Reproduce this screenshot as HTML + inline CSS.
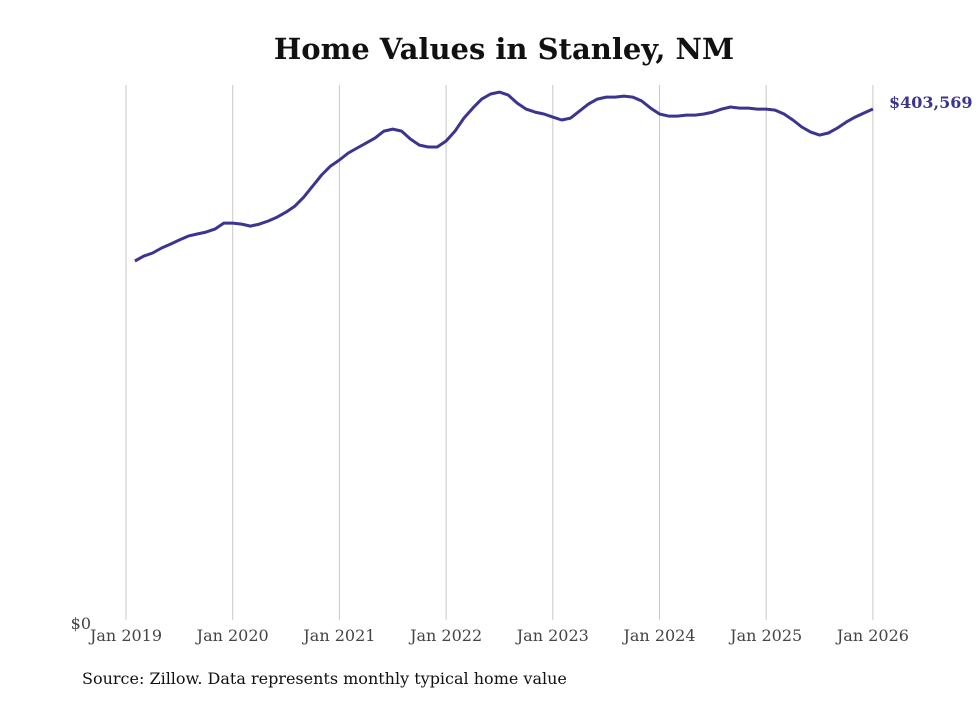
<!DOCTYPE html>
<html><head><meta charset="utf-8"><style>
body{margin:0;background:#fff}
svg text{font-family:"DejaVu Serif","Liberation Serif",serif}
</style></head><body>
<svg width="980" height="699" xmlns="http://www.w3.org/2000/svg">
<text x="504" y="59" text-anchor="middle" font-size="29" font-weight="bold" fill="#111">Home Values in Stanley, NM</text>
<g id="grid"></g>
<g id="xticks"></g>
<text x="91" y="629" text-anchor="end" font-size="16" fill="#444">$0</text>
<path id="line" fill="none" stroke="#3b3590" stroke-width="3" stroke-linejoin="round"/>
<text id="endlabel" x="889" y="108" font-size="16" font-weight="bold" fill="#3b3590">$403,569</text>
<text x="82" y="684" font-size="16" fill="#111">Source: Zillow. Data represents monthly typical home value</text>
</svg>
<script>
const tickLabels=["Jan 2019","Jan 2020","Jan 2021","Jan 2022","Jan 2023","Jan 2024","Jan 2025","Jan 2026"];
const startMonthIndex=1; // Feb 2019
const valuesK=[284.2,288.1,290.5,294.4,297.5,300.7,303.8,305.4,306.9,309.3,314.0,
314.0,313.2,311.6,313.2,315.6,318.7,322.6,327.3,334.4,343.0,351.7,358.7,
363.5,369.0,372.9,376.8,380.7,386.2,387.8,386.2,379.9,375.2,373.7,373.7,
378.4,386.2,396.4,404.3,411.3,415.3,416.8,414.5,408.2,403.5,401.1,399.6,
397.2,394.9,396.4,401.9,407.4,411.3,412.9,412.9,413.7,412.9,409.8,404.3,
399.6,398.0,398.0,398.8,398.8,399.6,401.1,403.5,405.1,404.3,404.3,403.5,
403.5,402.7,399.6,394.9,389.4,385.4,383.1,384.7,388.6,393.3,397.2,400.4,
403.569];
const yMax=422.4;
const x0=126,yearW=106.7,yBot=623,yTop=85;
const xs=m=>x0+m*yearW/12;
const ys=v=>yBot-(v/yMax)*(yBot-yTop);
const ns="http://www.w3.org/2000/svg";
const grid=document.getElementById('grid'),xt=document.getElementById('xticks');
tickLabels.forEach((t,i)=>{
 const x=xs(i*12);
 const l=document.createElementNS(ns,'line');
 l.setAttribute('x1',x);l.setAttribute('x2',x);l.setAttribute('y1',yTop);l.setAttribute('y2',620);
 l.setAttribute('stroke','#c8c8c8');l.setAttribute('stroke-width','1');
 
 
 grid.appendChild(l);
 const tx=document.createElementNS(ns,'text');
 tx.setAttribute('x',x);tx.setAttribute('y',641);tx.setAttribute('text-anchor','middle');
 tx.setAttribute('font-size','16');tx.setAttribute('fill','#444');tx.textContent=t;
 
 
 xt.appendChild(tx);
});
let d='';
valuesK.forEach((v,i)=>{d+=(i?'L':'M')+xs(startMonthIndex+i).toFixed(1)+','+ys(v).toFixed(1);});
document.getElementById('line').setAttribute('d',d);
const last=valuesK[valuesK.length-1];
const el=document.getElementById('endlabel');
el.setAttribute('y',(ys(last)+-1).toFixed(1));
el.textContent='$'+Math.round(last*1000).toLocaleString('en-US');
</script>
</body></html>
